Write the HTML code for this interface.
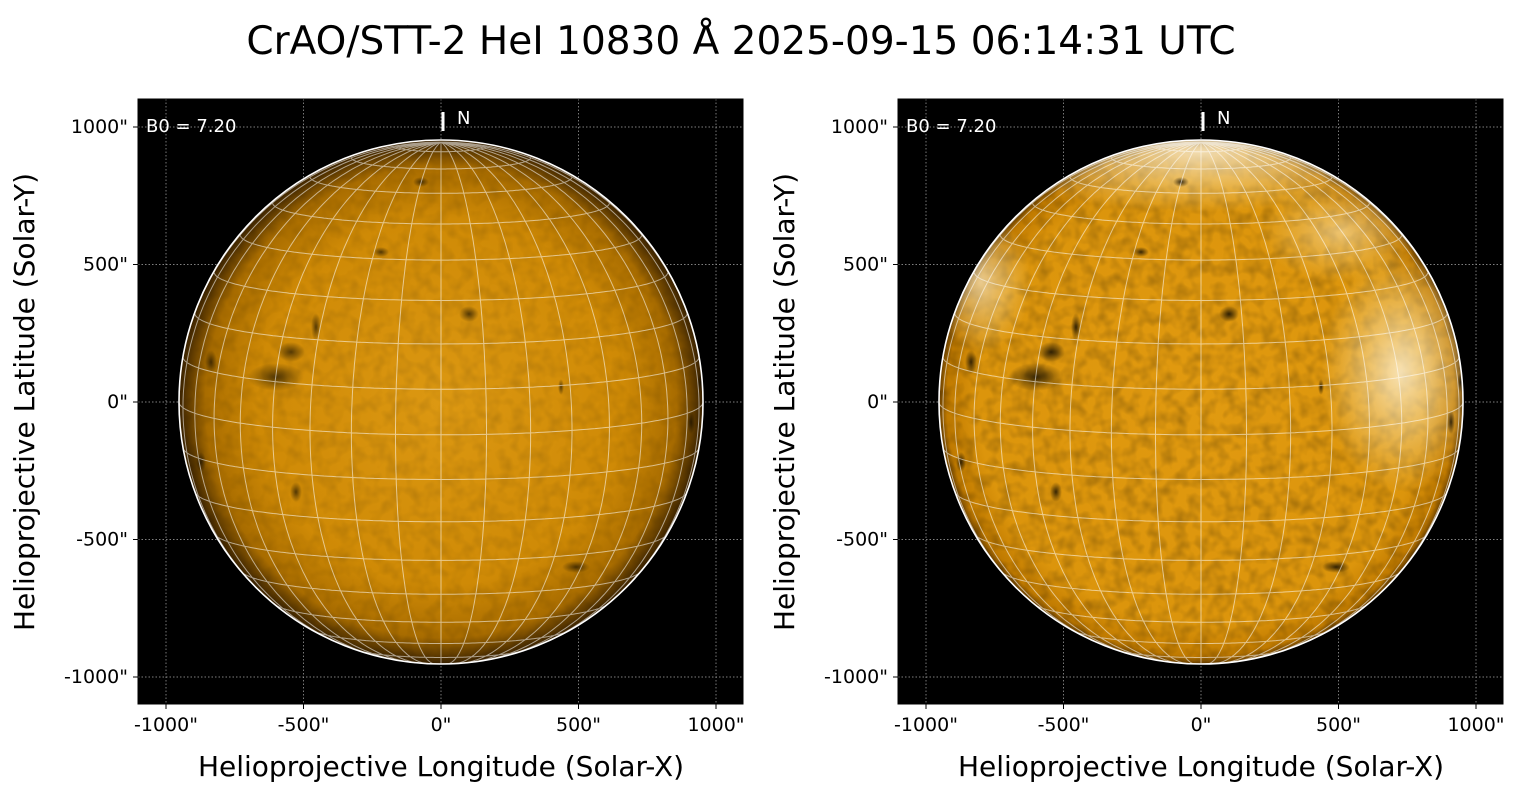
<!DOCTYPE html>
<html><head><meta charset="utf-8"><style>
body{margin:0;background:#fff;width:1520px;height:795px;overflow:hidden;font-family:"DejaVu Sans","Liberation Sans",sans-serif}
</style></head><body>
<svg id="s" width="1520" height="795" xmlns="http://www.w3.org/2000/svg" font-family="DejaVu Sans, Liberation Sans, sans-serif">
<defs>
<radialGradient id="g1" cx="0.5" cy="0.5" r="0.5">
<stop offset="0" stop-color="#dc9812"/><stop offset="0.7" stop-color="#cf8a06"/><stop offset="0.9" stop-color="#a86c00"/><stop offset="1" stop-color="#3a2200"/>
</radialGradient>
<radialGradient id="g2" cx="0.5" cy="0.5" r="0.5">
<stop offset="0" stop-color="#e19a10"/><stop offset="0.85" stop-color="#dc950c"/><stop offset="0.97" stop-color="#c07a00"/><stop offset="1" stop-color="#6a4000"/>
</radialGradient>
<radialGradient id="w" cx="0.5" cy="0.5" r="0.5"><stop offset="0" stop-color="#fff5dc" stop-opacity="0.8"/><stop offset="1" stop-color="#ffe9b0" stop-opacity="0"/></radialGradient>
<radialGradient id="d" cx="0.5" cy="0.5" r="0.5"><stop offset="0" stop-color="#000" stop-opacity="0.75"/><stop offset="1" stop-color="#000" stop-opacity="0"/></radialGradient>
<filter id="n" x="0" y="0" width="1" height="1"><feTurbulence type="fractalNoise" baseFrequency="0.08" numOctaves="2" seed="3"/><feColorMatrix values="0 0 0 0 0  0 0 0 0 0  0 0 0 0 0  0 0 0 0.9 -0.35"/></filter>
<clipPath id="c0"><circle cx="441" cy="402" r="262"/></clipPath>
<clipPath id="c1"><circle cx="1201" cy="402" r="262"/></clipPath>
</defs>
<text x="741" y="54" font-size="39" text-anchor="middle" fill="#000">CrAO/STT-2 HeI 10830 Å 2025-09-15 06:14:31 UTC</text>
<g id="p0"></g><g id="p1"></g>
</svg>
<script>
const NS="http://www.w3.org/2000/svg";
function el(p,t,a,txt){const e=document.createElementNS(NS,t);for(const k in a)e.setAttribute(k,a[k]);if(txt!==undefined)e.textContent=txt;p.appendChild(e);return e;}
const B0=7.2*Math.PI/180,R=262;
function panel(g,x0,fill,bright,ci){
 const cx=x0+303,cy=402,sc=0.275;
 el(g,"rect",{x:x0,y:99,width:605,height:605,fill:"#000"});
 const ticks=[-1000,-500,0,500,1000];
 for(const t of ticks){
  const X=cx+t*sc,Y=cy-t*sc;
  el(g,"line",{x1:X,y1:99,x2:X,y2:704,stroke:"#aaa","stroke-width":0.7,"stroke-dasharray":"1.5,2"});
  el(g,"line",{x1:x0,y1:Y,x2:x0+605,y2:Y,stroke:"#aaa","stroke-width":0.7,"stroke-dasharray":"1.5,2"});
  el(g,"line",{x1:X,y1:704,x2:X,y2:709,stroke:"#000"});
  el(g,"line",{x1:x0-5,y1:Y,x2:x0,y2:Y,stroke:"#000"});
  el(g,"text",{x:X,y:731,"font-size":19,"text-anchor":"middle",fill:"#000"},t+'"');
  el(g,"text",{x:x0-10,y:Y+6,"font-size":19,"text-anchor":"end",fill:"#000"},t+'"');
 }
 el(g,"circle",{cx:cx,cy:cy,r:R,fill:fill});
 const cg=el(g,"g",{"clip-path":`url(#c${ci})`});
 el(cg,"rect",{x:cx-R,y:cy-R,width:2*R,height:2*R,filter:"url(#n)",opacity:bright?0.5:0.25});
 if(bright){
  el(cg,"ellipse",{cx:cx,cy:cy-250,rx:220,ry:60,fill:"url(#w)"});
  el(cg,"ellipse",{cx:cx+200,cy:cy-30,rx:80,ry:120,fill:"url(#w)"});
  el(cg,"ellipse",{cx:cx-220,cy:cy-120,rx:50,ry:70,fill:"url(#w)",opacity:0.8});
  el(cg,"ellipse",{cx:cx+140,cy:cy-170,rx:80,ry:50,fill:"url(#w)",opacity:0.6});
 }
 const feats=[[-165,-25,28,14],[-150,-50,14,10],[28,-88,10,8],[-125,-75,5,14],[120,-15,3,8],[-145,90,6,10],[-20,-220,8,5],[135,165,14,6],[-230,-40,6,12],[250,20,4,12],[-240,60,5,10],[-60,-150,8,5],[260,-20,4,10]];
 const k=bright?1:0.8;
 for(const f of feats){el(cg,"ellipse",{cx:cx+f[0],cy:cy+f[1],rx:f[2],ry:f[3],fill:"url(#d)",opacity:k});}
 const rad=Math.PI/180;let d="";
 function pt(la,lo){const x=R*Math.cos(la)*Math.sin(lo),y=R*(Math.cos(B0)*Math.sin(la)-Math.sin(B0)*Math.cos(la)*Math.cos(lo));const v=Math.sin(B0)*Math.sin(la)+Math.cos(B0)*Math.cos(la)*Math.cos(lo);return [cx+x,cy-y,v];}
 for(let la=-80;la<=80;la+=10){let on=false;for(let lo=-90;lo<=90;lo+=1){const p=pt(la*rad,lo*rad);if(p[2]>=-0.001){d+=(on?"L":"M")+p[0].toFixed(1)+" "+p[1].toFixed(1);on=true;}else on=false;}}
 for(let lo=-90;lo<=90;lo+=10){let on=false;for(let la=-90;la<=90;la+=1){const p=pt(la*rad,lo*rad);if(p[2]>=-0.001){d+=(on?"L":"M")+p[0].toFixed(1)+" "+p[1].toFixed(1);on=true;}else on=false;}}
 el(g,"path",{d:d,fill:"none",stroke:"#fff","stroke-opacity":0.55,"stroke-width":1});
 el(g,"circle",{cx:cx,cy:cy,r:R,fill:"none",stroke:"#fff","stroke-width":1.6});
 el(g,"rect",{x:x0,y:99,width:605,height:605,fill:"none",stroke:"#000","stroke-width":1});
 el(g,"line",{x1:cx+2,y1:112,x2:cx+2,y2:131,stroke:"#fff","stroke-width":3});
 el(g,"text",{x:cx+16,y:124,"font-size":18,fill:"#fff"},"N");
 el(g,"text",{x:x0+8,y:132,"font-size":18,fill:"#fff"},"B0 = 7.20");
 el(g,"text",{x:cx,y:776,"font-size":28,"text-anchor":"middle",fill:"#000"},"Helioprojective Longitude (Solar-X)");
 el(g,"text",{x:0,y:0,"font-size":28,"text-anchor":"middle",fill:"#000",transform:`translate(${x0-104},402) rotate(-90)`},"Helioprojective Latitude (Solar-Y)");
}
panel(document.getElementById("p0"),138,"url(#g1)",false,0);
panel(document.getElementById("p1"),898,"url(#g2)",true,1);
</script>
</body></html>
